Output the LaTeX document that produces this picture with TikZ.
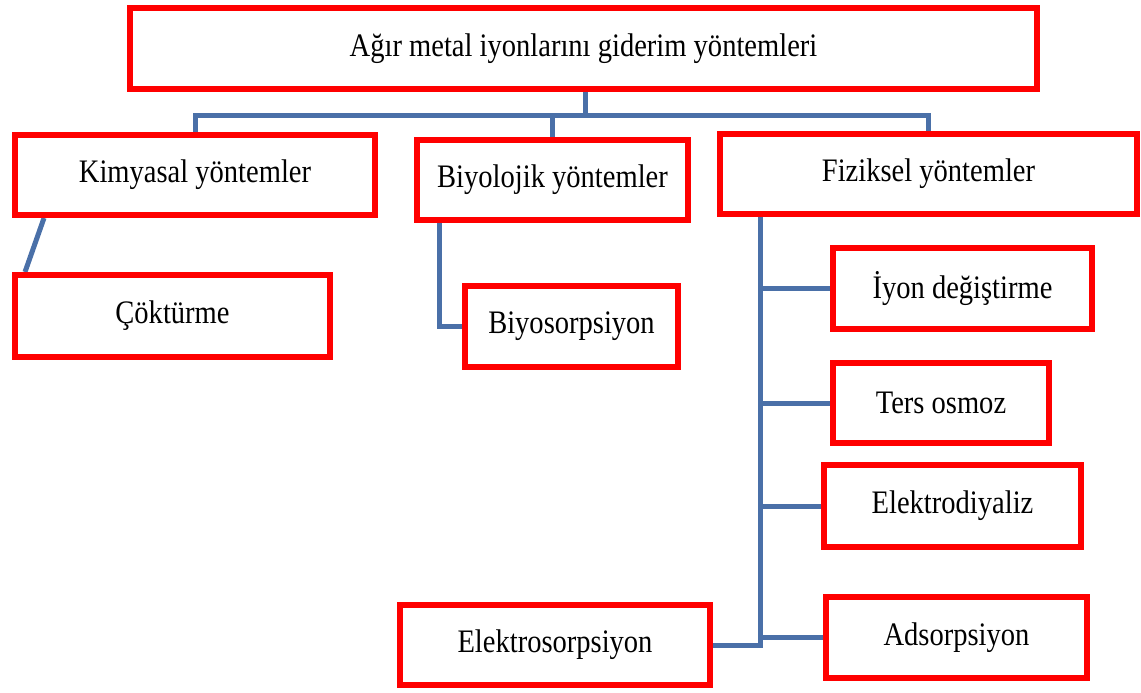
\documentclass[tikz,border=0pt]{standalone}
\usepackage{fontspec}
\setmainfont{Liberation Serif}[FakeStretch=0.87]
\usetikzlibrary{positioning, calc, backgrounds}
\definecolor{boxred}{RGB}{255,0,0}
\definecolor{linkblue}{RGB}{74,112,168}

\begin{document}
\begin{tikzpicture}[
        x=0.5pt, y=-0.5pt,
        box/.style  = {draw=boxred, line width=3pt, fill=white, rectangle, inner sep=0pt, align=center, font=\fontsize{16.4}{19}\selectfont},
        link/.style = {draw=linkblue, line width=2.5pt},
    ]
        \useasboundingbox (0,0) rectangle (1141,692);

        \node[box, minimum width=453.5pt, minimum height=40.5pt] (top) at (583.5,48.5) {Ağır metal iyonlarını giderim yöntemleri};

        \node[box, minimum width=180pt,   minimum height=40pt] (kim) at (195,175)   {Kimyasal yöntemler};
        \node[box, minimum width=135.5pt, minimum height=40pt] (biy) at (552.5,180) {Biyolojik yöntemler};
        \node[box, minimum width=208.5pt, minimum height=40pt] (fiz) at (928.5,174) {Fiziksel yöntemler};

        \node[box, minimum width=157.5pt, minimum height=41pt]   (cok) at (172.5,316)   {Çöktürme};
        \node[box, minimum width=106.5pt, minimum height=40.5pt] (bso) at (571.5,326.5) {Biyosorpsiyon};

        \node[box, minimum width=129.5pt, minimum height=40.5pt] (iyon) at (962.5,288.5) {İyon değiştirme};
        \node[box, minimum width=108pt,   minimum height=40pt]   (ters) at (941,403)     {Ters osmoz};
        \node[box, minimum width=128.5pt, minimum height=41pt]   (ed)   at (952.5,506)   {Elektrodiyaliz};
        \node[box, minimum width=130.5pt, minimum height=40.5pt] (ads)  at (956.5,637.5) {Adsorpsiyon};
        \node[box, minimum width=155pt,   minimum height=40pt]   (es)   at (555,645)     {Elektrosorpsiyon};

        \begin{scope}[on background layer]
            % top level bus
            \coordinate (bus) at (585,115);
            \draw[link] (top.south -| bus) -- (bus);
            \draw[link] (kim.north) |- (bus) -| (fiz.north);
            \draw[link] (biy.north) -- (biy.north |- bus);

            % kimyasal and biyolojik
            \draw[link] ($(kim.south west)+(32,0)$) -- ($(cok.north west)+(13,0)$);
            \draw[link] ($(biy.south west)+(25,0)$) |- (bso.west);

            % fiziksel trunk
            \coordinate (tr) at ($(fiz.south west)+(43,0)$);
            \draw[link] (tr) -- (tr |- es.east) -- (es.east);
            \foreach \n in {iyon, ters, ed, ads}
                \draw[link] (tr |- \n.west) -- (\n.west);
        \end{scope}
    \end{tikzpicture}
\end{document}
